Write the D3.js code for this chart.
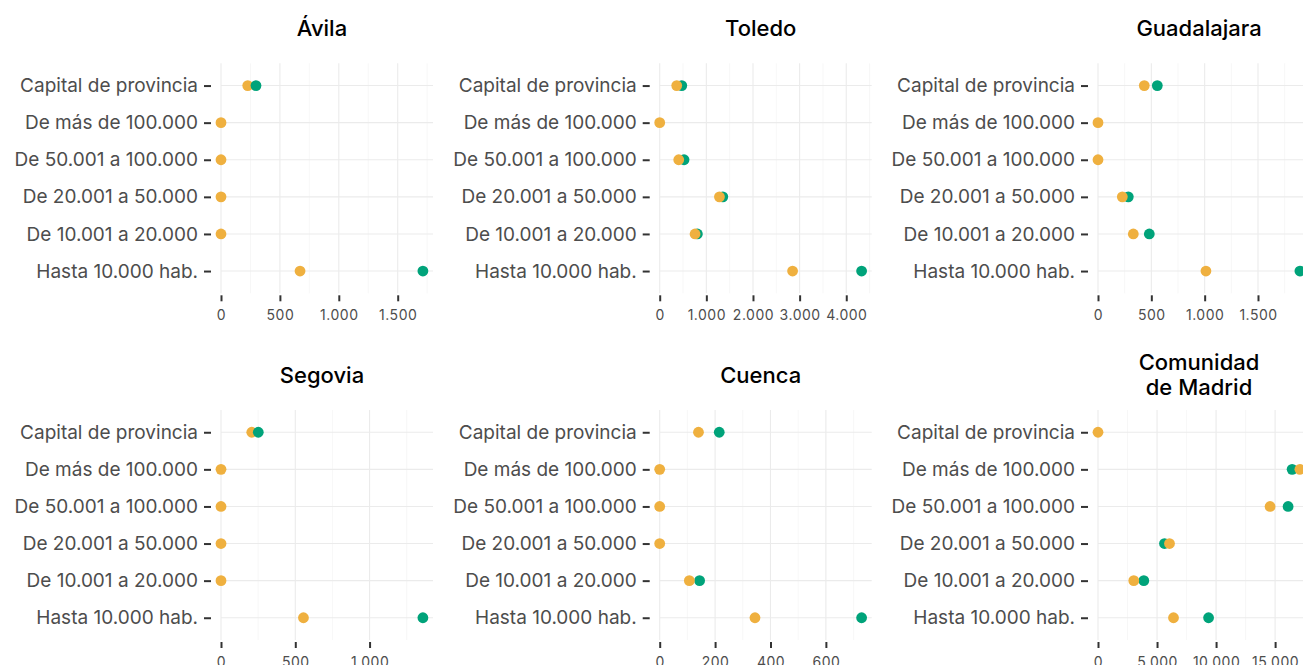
<!DOCTYPE html>
<html>
<head>
<meta charset="utf-8">
<script src="https://cdn.jsdelivr.net/npm/d3@7.9.0/dist/d3.min.js"></script>
<style>
  html, body { margin: 0; padding: 0; background: #fff; }
  svg { display: block; font-family: Inter, "Noto Sans", sans-serif; }
</style>
</head>
<body>
<div id="chart"></div>
<script>
// categories (top to bottom)
const categories = [
  'Capital de provincia',
  'De más de 100.000',
  'De 50.001 a 100.000',
  'De 20.001 a 50.000',
  'De 10.001 a 20.000',
  'Hasta 10.000 hab.'
];

const provinces = ['Ávila', 'Toledo', 'Guadalajara', 'Segovia', 'Cuenca', 'Comunidad\nde Madrid'];

// values per province, same order as categories (null = no dot)
const orangeValues = [
  [227, 0, 0, 0, 0, 671],
  [365, 0, 408, 1281, 758, 2849],
  [434, 0, 0, 228, 331, 1012],
  [207, 0, 0, 0, 0, 555],
  [140, 0, 0, 0, 107, 344],
  [0, 17100, 14575, 6055, 3030, 6395]
];
const greenValues = [
  [297, null, null, null, null, 1714],
  [473, null, 522, 1353, 808, 4329],
  [556, null, null, 284, 481, 1893],
  [251, null, null, null, null, 1359],
  [215, null, null, null, 144, 729],
  [null, 16440, 16100, 5630, 3880, 9365]
];

const tickValues = [
  [0, 500, 1000, 1500],
  [0, 1000, 2000, 3000, 4000],
  [0, 500, 1000, 1500],
  [0, 500, 1000],
  [0, 200, 400, 600],
  [0, 5000, 10000, 15000]
];

// provinces where the green dot sits on top
const greenOnTop = ['Ávila', 'Segovia'];

const colors = { orange: '#efb03f', green: '#00a37a' };

const width = 1303, height = 665;
const colLeft = [221, 659.7, 1098];
const rowTop = [63.3, 410];
const panelW = 212, panelH = 230;

const locale = d3.formatLocale({ decimal: ',', thousands: '.', grouping: [3], currency: ['', '€'] });
const fmt = locale.format(',d');

const svg = d3.select('#chart')
  .append('svg')
  .attr('width', width)
  .attr('height', height);

provinces.forEach((name, i) => {
  const left = colLeft[i % 3];
  const top = rowTop[Math.floor(i / 3)];
  const vals = greenValues[i].concat(orangeValues[i]);
  const max = d3.max(vals);

  const x = d3.scaleLinear()
    .domain([0, max * 1.05])
    .range([left, left + panelW]);

  const y = d3.scalePoint()
    .domain(categories)
    .range([top, top + panelH])
    .padding(0.6);

  const g = svg.append('g').attr('class', 'panel');

  // gridlines
  const ticks = tickValues[i];
  const step = ticks[1] - ticks[0];
  const minor = d3.range(step / 2, max * 1.05, step);

  g.append('g')
    .selectAll('line')
    .data(minor)
    .join('line')
    .attr('x1', d => x(d)).attr('x2', d => x(d))
    .attr('y1', top).attr('y2', top + panelH)
    .attr('stroke', '#f2f2f2')
    .attr('stroke-width', 0.6);

  g.append('g')
    .selectAll('line')
    .data(ticks)
    .join('line')
    .attr('x1', d => x(d)).attr('x2', d => x(d))
    .attr('y1', top).attr('y2', top + panelH)
    .attr('stroke', '#ebebeb')
    .attr('stroke-width', 1.1);

  g.append('g')
    .selectAll('line')
    .data(categories)
    .join('line')
    .attr('x1', left).attr('x2', left + panelW)
    .attr('y1', d => y(d)).attr('y2', d => y(d))
    .attr('stroke', '#ebebeb')
    .attr('stroke-width', 1.1);

  // x axis
  const xAxis = d3.axisBottom(x)
    .tickValues(ticks)
    .tickFormat(fmt)
    .tickSize(6)
    .tickPadding(9);

  const xa = g.append('g')
    .attr('transform', `translate(0, ${top + panelH + 2})`)
    .call(xAxis);
  xa.select('.domain').remove();
  xa.selectAll('.tick line').attr('stroke', '#333').attr('stroke-width', 2);
  xa.selectAll('.tick text')
    .attr('fill', '#4d4d4d')
    .style('font-size', '14px')
    .style('letter-spacing', '0.5px')
    .style('font-family', 'Inter, sans-serif');

  // y axis
  const yAxis = d3.axisLeft(y).tickSize(7).tickPadding(6);
  const ya = g.append('g')
    .attr('transform', `translate(${left - 10}, 0)`)
    .call(yAxis);
  ya.select('.domain').remove();
  ya.selectAll('.tick line').attr('stroke', '#333').attr('stroke-width', 2);
  ya.selectAll('.tick text')
    .attr('fill', '#4d4d4d')
    .style('font-size', '19px')
    .style('font-family', 'Inter, sans-serif');

  // dots
  const rows = categories.map((c, k) => ({ cat: c, orange: orangeValues[i][k], green: greenValues[i][k] }));
  const order = greenOnTop.includes(name) ? ['orange', 'green'] : ['green', 'orange'];
  order.forEach(key => {
    g.append('g')
      .selectAll('circle')
      .data(rows.filter(d => d[key] != null))
      .join('circle')
      .attr('cx', d => x(d[key]))
      .attr('cy', d => y(d.cat))
      .attr('r', 5.4)
      .attr('fill', colors[key]);
  });

  // title
  const lines = name.split('\n');
  const cx = left + panelW / 2 - 5;
  const baseY = top - 27.3 - (lines.length - 1) * 12.5;
  const title = g.append('text')
    .attr('text-anchor', 'middle')
    .attr('fill', '#000')
    .style('font-size', '22px')
    .style('font-weight', 500);
  lines.forEach((l, k) => {
    title.append('tspan')
      .attr('x', cx)
      .attr('y', baseY + k * 25)
      .text(l);
  });
});
</script>
</body>
</html>
